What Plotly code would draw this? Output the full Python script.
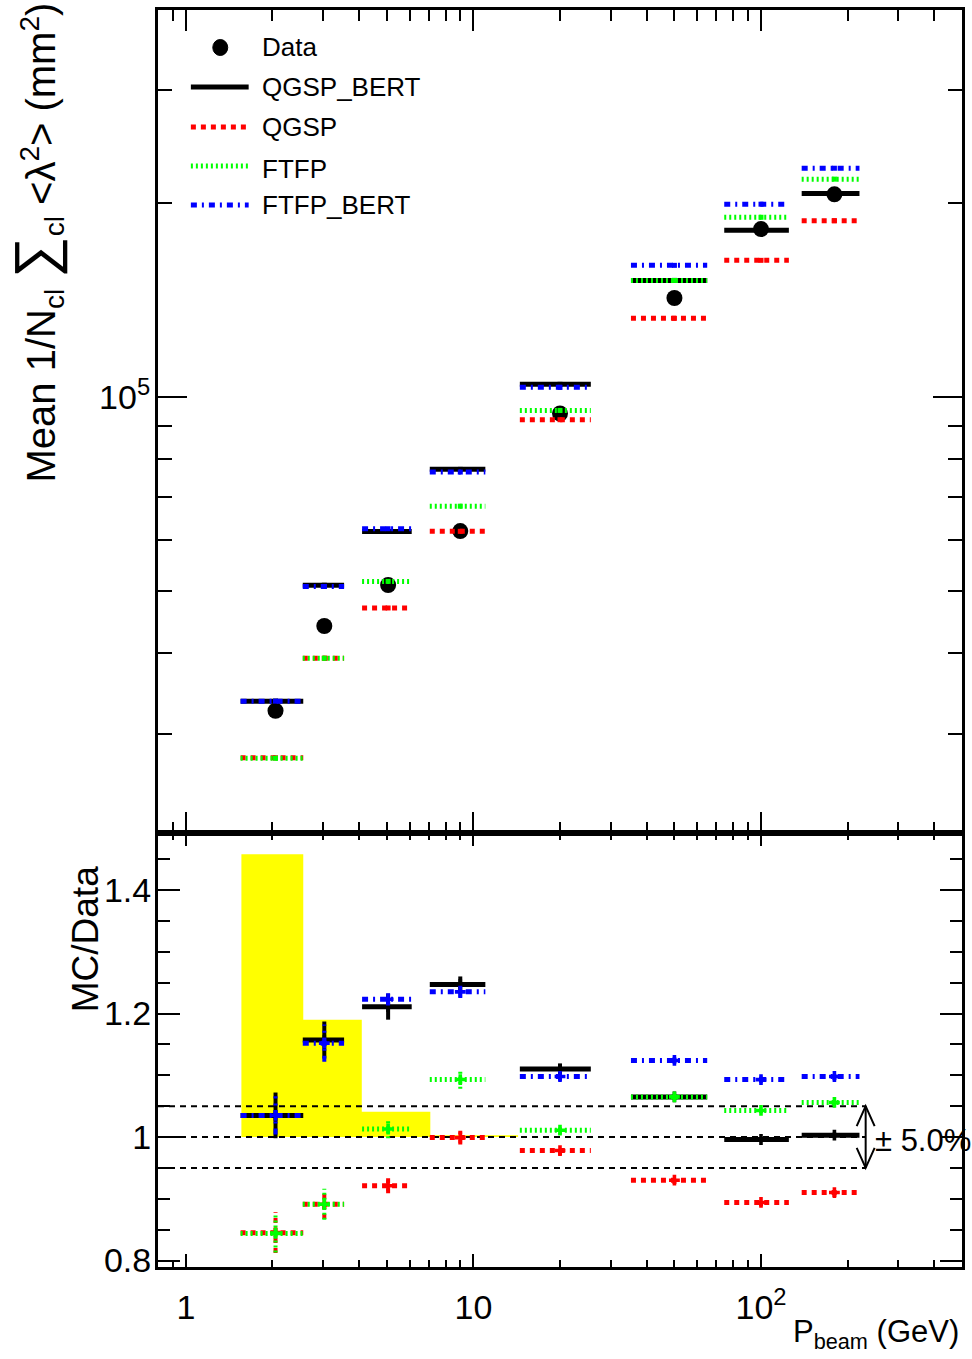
import math
import plotly.graph_objects as go

# ---------------------------------------------------------------- data
# beam momentum of each run (GeV) and the horizontal extent drawn for it
p_beam = [2.05, 3.03, 5.05, 9.0, 20.0, 50.0, 100.0, 180.0]
p_low = [1.55, 2.55, 4.10, 7.05, 14.5, 35.3, 74.5, 138.5]
p_high = [2.56, 3.55, 6.10, 11.0, 25.6, 65.0, 125.0, 220.0]

# mean 1/N_cl sum_cl <lambda^2>  (mm^2)
data_mean = [32540, 44070, 51040, 61900, 94270, 142500, 182400, 206500]
qgsp_bert = [33680, 50990, 61810, 77190, 104640, 151760, 181670, 207120]
qgsp = [27500, 39270, 47010, 61840, 92200, 132530, 163070, 187920]
ftfp = [27460, 39270, 51700, 67660, 95310, 151760, 190240, 218060]
ftfp_bert = [33680, 50770, 62420, 76450, 103510, 160170, 199360, 226740]

# uncertainty on MC/Data
qgsp_bert_err = [0.037, 0.030, 0.021, 0.013, 0.009, 0.004, 0.003, 0.004]
qgsp_err = [0.033, 0.024, 0.012, 0.011, 0.008, 0.006, 0.006, 0.007]
ftfp_err = [0.031, 0.025, 0.015, 0.015, 0.007, 0.004, 0.004, 0.004]
ftfp_bert_err = [0.031, 0.030, 0.010, 0.010, 0.007, 0.005, 0.005, 0.006]

# relative data uncertainty band (bin edges in GeV, relative error per bin)
band_edges = [1.56, 2.56, 4.09, 7.08, 14.3]
band_rel_err = [0.458, 0.190, 0.041, 0.003]

# ---------------------------------------------------------------- styles
FONT = "Liberation Sans, Arial, sans-serif"

models = [
    ("QGSP_BERT", qgsp_bert, qgsp_bert_err, "black", "solid"),
    ("QGSP", qgsp, qgsp_err, "#ff0000", "5px,5px"),
    ("FTFP", ftfp, ftfp_err, "#00ff00", "2px,3px"),
    ("FTFP_BERT", ftfp_bert, ftfp_bert_err, "#0000ff", "6px,5px,2px,5px"),
]


def hsegments(lo, hi, vals):
    xs, ys = [], []
    for a, b, v in zip(lo, hi, vals):
        xs += [a, b, None]
        ys += [v, v, None]
    return xs, ys


def vsegments(xc, vals, errs):
    xs, ys = [], []
    for x, v, e in zip(xc, vals, errs):
        xs += [x, x, None]
        ys += [v - e, v + e, None]
    return xs, ys


fig = go.Figure()

# ---------------------------------------------------------------- upper pad
fig.add_trace(go.Scatter(
    x=p_beam, y=data_mean, mode="markers", name="Data",
    marker=dict(symbol="circle", size=16, color="black"),
    xaxis="x", yaxis="y", showlegend=False))

for name, vals, errs, col, dash in models:
    xs, ys = hsegments(p_low, p_high, vals)
    fig.add_trace(go.Scatter(
        x=xs, y=ys, mode="lines", name=name,
        line=dict(color=col, width=5, dash=dash),
        xaxis="x", yaxis="y", showlegend=False))
    fig.add_trace(go.Scatter(
        x=p_beam, y=vals, mode="markers", name=name,
        marker=dict(symbol="square", size=5, color=col, line=dict(width=0)),
        xaxis="x", yaxis="y", showlegend=False))

# ---------------------------------------------------------------- ratio pad
bx, by = [band_edges[0]], [1.0]
for i, e in enumerate(band_rel_err):
    bx += [band_edges[i], band_edges[i + 1]]
    by += [1.0 + e, 1.0 + e]
bx.append(band_edges[-1])
by.append(1.0)
fig.add_trace(go.Scatter(
    x=bx, y=by, mode="lines", fill="toself", fillcolor="#ffff00",
    line=dict(width=0, color="#ffff00"),
    xaxis="x2", yaxis="y2", showlegend=False, hoverinfo="skip"))

# reference lines at 1 and +-5 %
for lvl in (0.95, 1.0, 1.05):
    fig.add_trace(go.Scatter(
        x=[0.8, 230], y=[lvl, lvl], mode="lines",
        line=dict(color="black", width=2, dash="6px,5px"),
        xaxis="x2", yaxis="y2", showlegend=False, hoverinfo="skip"))

for name, vals, errs, col, dash in models:
    ratio = [m / d for m, d in zip(vals, data_mean)]
    xs, ys = hsegments(p_low, p_high, ratio)
    fig.add_trace(go.Scatter(
        x=xs, y=ys, mode="lines", name=name,
        line=dict(color=col, width=5, dash=dash),
        xaxis="x2", yaxis="y2", showlegend=False))
    vx, vy = vsegments(p_beam, ratio, errs)
    fig.add_trace(go.Scatter(
        x=vx, y=vy, mode="lines", name=name,
        line=dict(color=col, width=4, dash=dash),
        xaxis="x2", yaxis="y2", showlegend=False))
    fig.add_trace(go.Scatter(
        x=p_beam, y=ratio, mode="markers", name=name,
        marker=dict(symbol="cross", size=9, color=col, line=dict(width=0)),
        xaxis="x2", yaxis="y2", showlegend=False))

# ---------------------------------------------------------------- axes
split = 434 / 1257
xr = [math.log10(0.8), math.log10(500)]
x_minor = [0.9] + [d * 10 ** k for k in range(0, 3) for d in range(2, 10)]
x_minor = [v for v in x_minor if v < 500]

common_x = dict(
    type="log", range=xr, showgrid=False, zeroline=False,
    showline=True, linecolor="black", linewidth=3, mirror="allticks",
    ticks="inside", tickcolor="black", tickwidth=2,
    tickmode="array", tickvals=[1, 10, 100],
)

fig.update_layout(
    width=972, height=1359,
    margin=dict(l=158, r=7, t=10, b=92),
    paper_bgcolor="white", plot_bgcolor="white",
    showlegend=False,
    xaxis=dict(common_x, anchor="y", matches="x2", showticklabels=False,
               ticklen=21,
               minor=dict(tickmode="array", tickvals=x_minor, ticks="inside",
                          ticklen=11, tickwidth=2, tickcolor="black",
                          showgrid=False)),
    yaxis=dict(
        type="log", domain=[split, 1.0],
        range=[4.3225, 5.6014], anchor="x",
        showgrid=False, zeroline=False,
        showline=True, linecolor="black", linewidth=3, mirror="allticks",
        ticks="inside", tickcolor="black", tickwidth=2, ticklen=29,
        tickmode="array", tickvals=[1e5], ticktext=["10<sup>5</sup>"],
        tickfont=dict(family=FONT, size=34, color="black"),
        ticklabelstandoff=-2,
        minor=dict(tickmode="array",
                   tickvals=[3e4, 4e4, 5e4, 6e4, 7e4, 8e4, 9e4, 2e5, 3e5],
                   ticks="inside", ticklen=14, tickwidth=2,
                   tickcolor="black", showgrid=False)),
    xaxis2=dict(common_x, anchor="y2", ticklen=13,
                ticktext=["1", "10", "10<sup>2</sup>"],
                tickfont=dict(family=FONT, size=34, color="black"),
                ticklabelstandoff=8,
                minor=dict(tickmode="array", tickvals=x_minor, ticks="inside",
                           ticklen=7, tickwidth=2, tickcolor="black",
                           showgrid=False)),
    yaxis2=dict(
        domain=[0.0, split], range=[0.7895, 1.4923], anchor="x2",
        showgrid=False, zeroline=False,
        showline=True, linecolor="black", linewidth=3, mirror="allticks",
        ticks="inside", tickcolor="black", tickwidth=2, ticklen=22,
        tickmode="array", tickvals=[0.8, 1.0, 1.2, 1.4],
        ticktext=["0.8", "1", "1.2", "1.4"],
        tickfont=dict(family=FONT, size=34, color="black"),
        ticklabelstandoff=-3,
        minor=dict(tickmode="array",
                   tickvals=[0.85, 0.9, 0.95, 1.05, 1.1, 1.15, 1.25, 1.3,
                             1.35, 1.45],
                   ticks="inside", ticklen=12, tickwidth=2,
                   tickcolor="black", showgrid=False)),
)

# ---------------------------------------------------------------- titles
annotations = [
    dict(text="Mean 1/N<sub>cl</sub> <span style='font-size:58px'>∑</span>"
              "<sub>cl</sub> &lt;λ<sup>2</sup>&gt; (mm<sup>2</sup>)",
         xref="paper", yref="paper", x=(35 - 158) / 807, y=1.0 + 10 / 1257,
         xanchor="center", yanchor="top", textangle=-90, showarrow=False,
         font=dict(family=FONT, size=40, color="black")),
    dict(text="MC/Data", xref="paper", yref="paper",
         x=(85 - 158) / 807, y=(1267 - 864) / 1257,
         xanchor="center", yanchor="top", textangle=-90, showarrow=False,
         font=dict(family=FONT, size=37, color="black")),
    dict(text="P<sub>beam</sub> (GeV)", xref="paper", yref="paper",
         x=(964 - 158) / 807, y=-(1334 - 1267) / 1257,
         xanchor="right", yanchor="middle", showarrow=False,
         font=dict(family=FONT, size=31, color="black")),
    dict(text="± 5.0%", xref="paper", yref="y2",
         x=(876 - 158) / 807, y=0.995,
         xanchor="left", yanchor="middle", showarrow=False,
         font=dict(family=FONT, size=31, color="black")),
]


# legend, placed in pixel positions of the upper pad
def px_x(px):
    return (px - 158) / 807


def px_y(py):
    return (1267 - py) / 1257


legend_rows = [("Data", 47), ("QGSP_BERT", 87), ("QGSP", 127),
               ("FTFP", 169), ("FTFP_BERT", 205)]
line_rows = {"QGSP_BERT": 87, "QGSP": 127, "FTFP": 166, "FTFP_BERT": 205}
for label, py in legend_rows:
    annotations.append(dict(
        text=label, xref="paper", yref="paper", x=px_x(260), y=px_y(py),
        xanchor="left", yanchor="middle", showarrow=False,
        font=dict(family=FONT, size=26, color="black")))

shapes = []
for name, vals, errs, col, dash in models:
    py = line_rows[name]
    shapes.append(dict(type="line", xref="paper", yref="paper",
                       x0=px_x(191), x1=px_x(249), y0=px_y(py), y1=px_y(py),
                       line=dict(color=col, width=5, dash=dash)))
shapes.append(dict(type="circle", xref="paper", yref="paper",
                   x0=px_x(213), x1=px_x(228), y0=px_y(55.5), y1=px_y(39.5),
                   fillcolor="black", line=dict(color="black", width=1)))

# double-headed arrow marking the +-5 % band
ax = px_x(868.3)
adx = 9 / 807
ady = 20 / 617.5
shapes.append(dict(type="line", xref="paper", yref="y2",
                   x0=ax, x1=ax, y0=0.95, y1=1.05,
                   line=dict(color="black", width=2)))
shapes.append(dict(type="path", xref="paper", yref="y2",
                   path=f"M{ax - adx},{1.05 - ady} L{ax},{1.05} L{ax + adx},{1.05 - ady}",
                   line=dict(color="black", width=2)))
shapes.append(dict(type="path", xref="paper", yref="y2",
                   path=f"M{ax - adx},{0.95 + ady} L{ax},{0.95} L{ax + adx},{0.95 + ady}",
                   line=dict(color="black", width=2)))

fig.update_layout(annotations=annotations, shapes=shapes)

fig.write_html("out.html")
